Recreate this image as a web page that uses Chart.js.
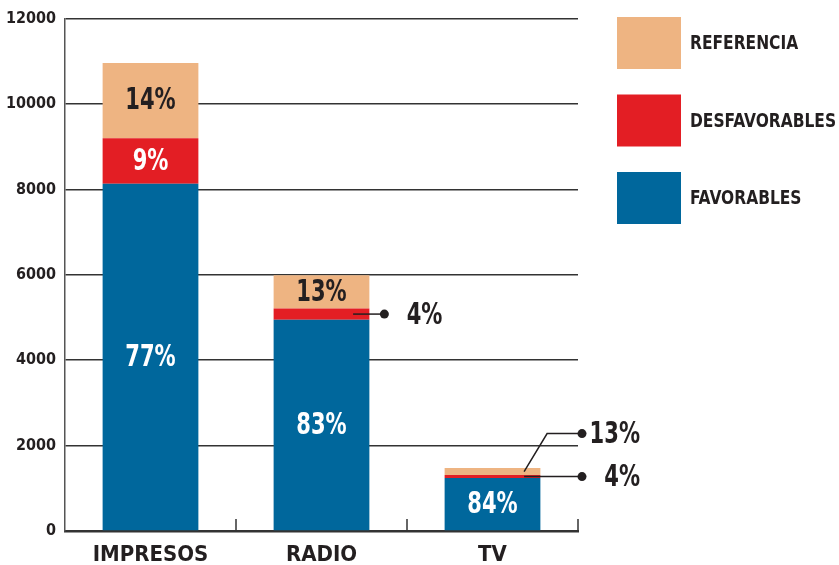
<!DOCTYPE html>
<html>
<head>
<meta charset="utf-8">
<script src="https://cdn.jsdelivr.net/npm/chart.js@4.4.1/dist/chart.umd.min.js"></script>
<style>
html,body{margin:0;padding:0;background:#fff;}
#wrap{width:839px;height:565px;}
</style>
</head>
<body>
<div id="wrap"><canvas id="c" width="839" height="565"></canvas></div>
<script>
const categories = ['IMPRESOS', 'RADIO', 'TV'];
const favorables = [8130, 4950, 1240];
const desfavorables = [1070, 260, 70];
const referencia = [1760, 780, 165];
const pctFavorables = ['77%', '83%', '84%'];
const pctDesfavorables = ['9%', '4%', '4%'];
const pctReferencia = ['14%', '13%', '13%'];
const yMax = 12000;
const yStep = 2000;

const FONT = '"Liberation Sans Narrow", "DejaVu Sans Condensed", "Arial Narrow", sans-serif';
const DARK = '#231F20';
const BLUE = '#00679C';
const RED = '#E31E24';
const BEIGE = '#EEB482';

function scaledText(ctx, text, x, y, align, sx) {
  ctx.save();
  ctx.translate(x, y);
  ctx.scale(sx, 1);
  ctx.textAlign = align;
  ctx.fillText(text, 0, 0);
  ctx.restore();
}

const barLabels = {
  id: 'barLabels',
  afterDatasetsDraw(chart) {
    const ctx = chart.ctx, area = chart.chartArea;
    const n = chart.data.labels.length;
    ctx.save();
    ctx.font = 'bold 30px ' + FONT;
    ctx.textBaseline = 'middle';
    for (let i = 0; i < n; i++) {
      const callouts = [];
      chart.data.datasets.forEach((ds, di) => {
        const bar = chart.getDatasetMeta(di).data[i];
        const top = bar.y, bottom = bar.base, h = bottom - top;
        const mid = (top + bottom) / 2;
        if (h >= 20) {
          ctx.fillStyle = ds.textColor;
          scaledText(ctx, ds.pct[i], bar.x, mid + 1, 'center', 0.78);
        } else {
          callouts.push({ bar, mid, text: ds.pct[i] });
        }
      });
      let baseY = null;
      callouts.forEach((c, k) => {
        const b = c.bar;
        const startX = b.x + b.width * 0.33;
        const dotX = callouts.length === 1 ? b.x + b.width / 2 + 15 : area.right + 4;
        if (k === 0) baseY = c.mid;
        const dotY = baseY - 43 * k;
        ctx.strokeStyle = DARK;
        ctx.lineWidth = 1.5;
        ctx.beginPath();
        ctx.moveTo(startX, c.mid);
        if (k > 0) ctx.lineTo(startX + 23, dotY);
        ctx.lineTo(dotX, dotY);
        ctx.stroke();
        ctx.fillStyle = DARK;
        ctx.beginPath();
        ctx.arc(dotX, dotY, 4.5, 0, Math.PI * 2);
        ctx.fill();
        scaledText(ctx, c.text, dotX + 58, dotY + 2, 'right', 0.78);
      });
    }
    ctx.restore();
  }
};

const xTicks = {
  id: 'xTicks',
  afterDraw(chart) {
    const ctx = chart.ctx, area = chart.chartArea;
    const n = chart.data.labels.length;
    ctx.save();
    ctx.strokeStyle = '#333';
    ctx.lineWidth = 1.5;
    for (let i = 1; i <= n; i++) {
      const x = area.left + i * area.width / n;
      ctx.beginPath();
      ctx.moveTo(x, area.bottom);
      ctx.lineTo(x, area.bottom - 12);
      ctx.stroke();
    }
    ctx.restore();
  }
};

const sideLegend = {
  id: 'sideLegend',
  afterDraw(chart) {
    const ctx = chart.ctx, area = chart.chartArea;
    const ds = chart.data.datasets.slice().reverse();
    ctx.save();
    ctx.font = 'bold 20px ' + FONT;
    ctx.textBaseline = 'middle';
    ds.forEach((d, k) => {
      const x = area.right + 39, y = 17 + k * 77.5;
      ctx.fillStyle = d.backgroundColor;
      ctx.fillRect(x, y, 64, 52);
      ctx.fillStyle = DARK;
      scaledText(ctx, d.label, x + 73, y + 27, 'left', 0.86);
    });
    ctx.restore();
  }
};

new Chart(document.getElementById('c'), {
  type: 'bar',
  data: {
    labels: categories,
    datasets: [
      { label: 'FAVORABLES', data: favorables, backgroundColor: BLUE, pct: pctFavorables, textColor: '#fff' },
      { label: 'DESFAVORABLES', data: desfavorables, backgroundColor: RED, pct: pctDesfavorables, textColor: '#fff' },
      { label: 'REFERENCIA', data: referencia, backgroundColor: BEIGE, pct: pctReferencia, textColor: DARK }
    ]
  },
  options: {
    responsive: false,
    animation: false,
    layout: { padding: { top: 16, right: 261, left: 0, bottom: 0 } },
    datasets: { bar: { barPercentage: 0.56, categoryPercentage: 1.0, borderWidth: 0 } },
    plugins: { legend: { display: false }, tooltip: { enabled: false } },
    scales: {
      x: {
        stacked: true,
        grid: { display: false },
        border: { display: true, color: '#333', width: 2.5 },
        ticks: { color: DARK, font: { family: FONT, size: 22, weight: 'bold' }, padding: 3 },
        afterFit(s) { s.height = 34; }
      },
      y: {
        stacked: true,
        min: 0, max: yMax,
        ticks: {
          stepSize: yStep, color: DARK, padding: 9,
          font: { family: FONT, size: 16, weight: 'bold' },
          callback: (v) => String(v)
        },
        grid: { color: '#333', lineWidth: 1.5, drawTicks: false },
        border: { display: true, color: '#555', width: 1.5 },
        afterFit(s) { s.width = 65; }
      }
    }
  },
  plugins: [barLabels, xTicks, sideLegend]
});
</script>
</body>
</html>
